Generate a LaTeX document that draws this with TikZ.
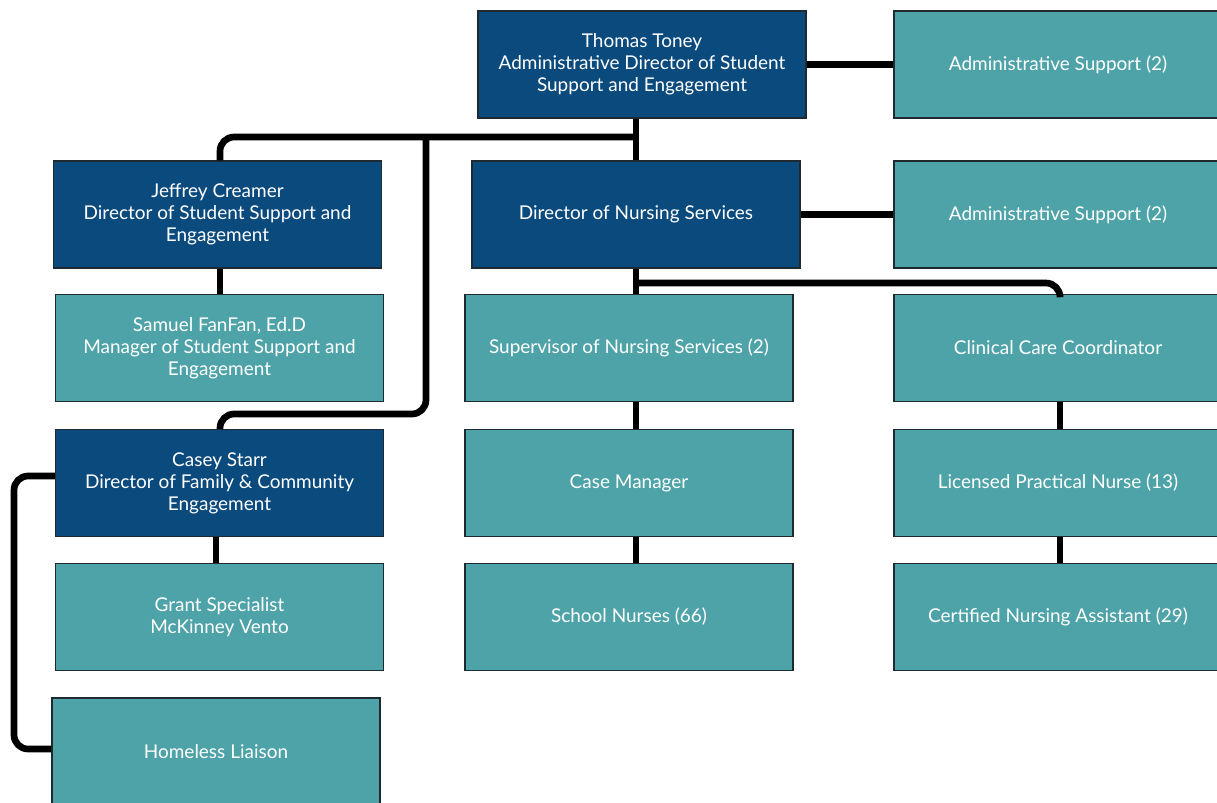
\documentclass[tikz,border=0pt]{standalone}
\usepackage{fontspec}
\setmainfont{Lato}
\usetikzlibrary{positioning}

\definecolor{headblue}{HTML}{0B4A7D}
\definecolor{staffteal}{HTML}{4EA3A8}
\definecolor{edgegray}{HTML}{1E2A30}

\tikzset{
	unit/.style={draw=edgegray, line width=0.8pt, text=white, align=center,
		minimum width=6.56cm, minimum height=2.14cm, inner sep=0pt,
		font=\fontsize{10.8}{12.6}\selectfont},
	lead/.style={unit, fill=headblue},
	staff/.style={unit, fill=staffteal},
	link/.style={line width=3.8pt, black, rounded corners=8pt}
}

\begin{document}
\begin{tikzpicture}[x=0.02cm, y=-0.02cm]
		\useasboundingbox (0,0) rectangle (1217,802);
		\clip (0,0) rectangle (1217,802);
		
		% TOP: administrative director
		\node[lead] (toney) at (642,64.5) {Thomas Toney\\Administrative Director of Student\\Support and Engagement};
		\node[staff] (admA) at (1058,64.5) {Administrative Support (2)};
		
		% LEFT COLUMN: student support / family engagement
		\node[lead] (creamer) at (217.5,214.5) {Jeffrey Creamer\\Director of Student Support and\\Engagement};
		\node[staff] (fanfan) at (219.5,348) {Samuel FanFan, Ed.D\\Manager of Student Support and\\Engagement};
		\node[lead] (starr) at (219.5,483) {Casey Starr\\Director of Family \& Community\\Engagement};
		\node[staff] (grant) at (219.5,617) {Grant Specialist\\McKinney Vento};
		\node[staff] (liaison) at (216,751.5) {Homeless Liaison};
		
		% MIDDLE COLUMN: nursing
		\node[lead] (nursing) at (636,214.5) {Director of Nursing Services};
		\node[staff] (superv) at (629,348) {Supervisor of Nursing Services (2)};
		\node[staff] (casemgr) at (629,483) {Case Manager};
		\node[staff] (nurses) at (629,617) {School Nurses (66)};
		
		% RIGHT COLUMN
		\node[staff] (admB) at (1058,214.5) {Administrative Support (2)};
		\node[staff] (clinical) at (1058,348) {Clinical Care Coordinator};
		\node[staff] (lpn) at (1058,483) {Licensed Practical Nurse (13)};
		\node[staff] (cna) at (1058,617) {Certified Nursing Assistant (29)};
		
		% Bus lines
		\coordinate (topbus) at (636,137);
		\coordinate (midbus) at (426,137);
		\coordinate (nursebus) at (636,283);
		
		\draw[link] (toney.east) -- (admA.west);
		\draw[link] (nursing.east) -- (admB.west);
		\draw[link] (nursing.north) -- (nursing.north |- toney.south);
		\draw[link] (topbus) -| (creamer.north -| 220,0);
		\draw[link] (midbus) -- (426,414) -- (220,414) -- (starr.north -| 220,0);
		\draw[link] (creamer.south -| 220,0) -- (fanfan.north -| 220,0);
		\draw[link] (starr.south -| 216,0) -- (grant.north -| 216,0);
		\draw[link] (starr.west |- 0,476) -- (14,476) -- (14,749) -- (liaison.west |- 0,749);
		
		% Nursing branch
		\draw[link] (nursing.south) -- (nursing.south |- superv.north);
		\draw[link] (nursebus) -- (1060,283) -- (clinical.north -| 1060,0);
		\draw[link] (superv.south -| nursing.south) -- (casemgr.north -| nursing.south);
		\draw[link] (casemgr.south -| nursing.south) -- (nurses.north -| nursing.south);
		\draw[link] (clinical.south -| 1060,0) -- (lpn.north -| 1060,0);
		\draw[link] (lpn.south -| 1060,0) -- (cna.north -| 1060,0);
	\end{tikzpicture}
\end{document}
